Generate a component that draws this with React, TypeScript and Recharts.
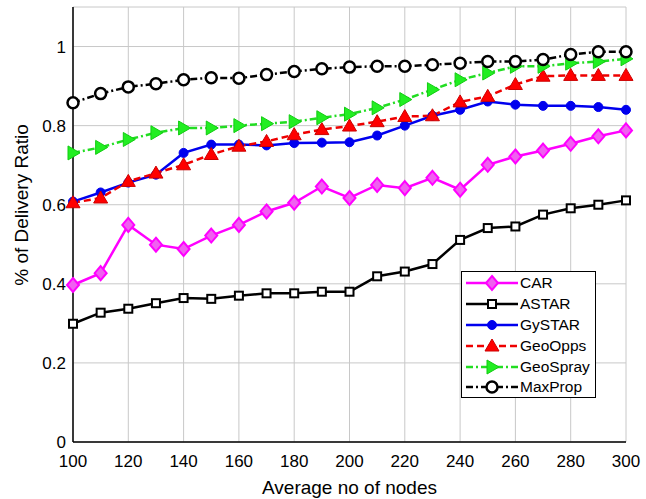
import React from 'react';
import { LineChart, Line, XAxis, YAxis, CartesianGrid } from 'recharts';

const nodes = [100, 110, 120, 130, 140, 150, 160, 170, 180, 190, 200, 210, 220, 230, 240, 250, 260, 270, 280, 290, 300];
const car = [0.397, 0.427, 0.549, 0.499, 0.488, 0.522, 0.549, 0.583, 0.605, 0.646, 0.617, 0.65, 0.642, 0.668, 0.638, 0.701, 0.722, 0.737, 0.754, 0.773, 0.788];
const astar = [0.299, 0.327, 0.337, 0.351, 0.364, 0.362, 0.37, 0.376, 0.376, 0.38, 0.38, 0.419, 0.431, 0.45, 0.511, 0.541, 0.545, 0.575, 0.591, 0.6, 0.611];
const gystar = [0.608, 0.631, 0.656, 0.676, 0.731, 0.752, 0.752, 0.75, 0.756, 0.757, 0.758, 0.775, 0.8, 0.825, 0.84, 0.861, 0.853, 0.85, 0.85, 0.847, 0.84];
const geoopps = [0.605, 0.617, 0.659, 0.68, 0.701, 0.727, 0.748, 0.76, 0.777, 0.79, 0.799, 0.81, 0.823, 0.825, 0.86, 0.874, 0.904, 0.925, 0.927, 0.927, 0.927];
const geospray = [0.731, 0.745, 0.765, 0.782, 0.794, 0.794, 0.8, 0.805, 0.81, 0.82, 0.829, 0.845, 0.866, 0.891, 0.916, 0.933, 0.95, 0.95, 0.958, 0.962, 0.969];
const maxprop = [0.858, 0.881, 0.898, 0.906, 0.916, 0.921, 0.92, 0.929, 0.937, 0.944, 0.948, 0.95, 0.95, 0.954, 0.958, 0.962, 0.962, 0.967, 0.98, 0.987, 0.987];
const xTicks = [100, 120, 140, 160, 180, 200, 220, 240, 260, 280, 300];
const yTicks = [0, 0.2, 0.4, 0.6, 0.8, 1];

const data = nodes.map((n, i) => ({
  n,
  CAR: car[i],
  ASTAR: astar[i],
  GySTAR: gystar[i],
  GeoOpps: geoopps[i],
  GeoSpray: geospray[i],
  MaxProp: maxprop[i],
}));

const FONT = 'Liberation Sans, Arial, sans-serif';

type Shape = 'diamond' | 'square' | 'circle' | 'triUp' | 'triRight' | 'openCircle';

const drawShape = (shape: Shape, cx: number, cy: number, color: string, key?: any) => {
  switch (shape) {
    case 'diamond':
      return <polygon key={key} points={`${cx},${cy - 7} ${cx + 6},${cy} ${cx},${cy + 7} ${cx - 6},${cy}`} fill="#f060f0" stroke={color} strokeWidth={2} />;
    case 'square':
      return <rect key={key} x={cx - 4} y={cy - 4} width={8} height={8} fill="#ffffff" stroke="#000" strokeWidth={2} />;
    case 'circle':
      return <circle key={key} cx={cx} cy={cy} r={4.5} fill={color} stroke={color} strokeWidth={1} />;
    case 'triUp':
      return <polygon key={key} points={`${cx},${cy - 7} ${cx + 7},${cy + 5} ${cx - 7},${cy + 5}`} fill="#ff0000" stroke="#cc0000" strokeWidth={1} />;
    case 'triRight':
      return <polygon key={key} points={`${cx + 7},${cy} ${cx - 5},${cy - 7} ${cx - 5},${cy + 7}`} fill="#22ee22" stroke="#11cc11" strokeWidth={1} />;
    case 'openCircle':
      return <circle key={key} cx={cx} cy={cy} r={5.5} fill="#ffffff" stroke="#000" strokeWidth={2.5} />;
  }
  return null;
};

const makeDot = (shape: Shape, color: string) => (props: any) => {
  const { cx, cy, index } = props;
  if (cx == null || cy == null) return <g key={index} />;
  return <g key={index}>{drawShape(shape, cx, cy, color)}</g>;
};

const series: { key: string; color: string; dash?: string; shape: Shape }[] = [
  { key: 'ASTAR', color: '#000000', shape: 'square' },
  { key: 'CAR', color: '#ff00ff', shape: 'diamond' },
  { key: 'GySTAR', color: '#0000ee', shape: 'circle' },
  { key: 'GeoOpps', color: '#ee0000', dash: '7 4', shape: 'triUp' },
  { key: 'GeoSpray', color: '#22dd22', dash: '7 3 2 3', shape: 'triRight' },
  { key: 'MaxProp', color: '#000000', dash: '7 3 2 3', shape: 'openCircle' },
];

const legendOrder = ['CAR', 'ASTAR', 'GySTAR', 'GeoOpps', 'GeoSpray', 'MaxProp'];

const LegendBox = () => (
  <div
    style={{
      position: 'absolute',
      left: 461,
      top: 271,
      width: 135,
      height: 127,
      border: '1.5px solid #000',
      background: '#fff',
      boxSizing: 'border-box',
      fontFamily: FONT,
      fontSize: 15.5,
      paddingTop: 1,
    }}
  >
    {legendOrder.map((k) => {
      const s = series.find((x) => x.key === k)!;
      return (
        <div key={k} style={{ display: 'flex', alignItems: 'center', height: 20.8, whiteSpace: 'nowrap' }}>
          <svg width={55} height={18} style={{ marginLeft: 3, flexShrink: 0 }}>
            <line x1={1} y1={9} x2={53} y2={9} stroke={s.color} strokeWidth={2.5} strokeDasharray={s.dash} />
            {drawShape(s.shape, 27, 9, s.color)}
          </svg>
          <span style={{ marginLeft: 0, color: '#000' }}>{k}</span>
        </div>
      );
    })}
  </div>
);

const YLabel = () => (
  <text
    x={21}
    y={205}
    transform="rotate(-90, 21, 205)"
    textAnchor="middle"
    dominantBaseline="central"
    fill="#000"
    fontSize={19}
    fontFamily={FONT}
  >
    % of Delivery Ratio
  </text>
);

const XLabel = () => (
  <text
    x={349.5}
    y={487}
    textAnchor="middle"
    dominantBaseline="central"
    fill="#000"
    fontSize={19}
    fontFamily={FONT}
  >
    Average no of nodes
  </text>
);

export default function App() {
  return (
    <div style={{ position: 'absolute', left: 0, top: 0, width: 646, height: 499, background: '#fff' }}>
      <LineChart width={646} height={499} data={data} margin={{ top: 7, right: 20, left: 0, bottom: 0 }}>
        <CartesianGrid stroke="#c8c8c8" strokeWidth={1} horizontal vertical />
        <XAxis
          dataKey="n"
          type="number"
          domain={[100, 300]}
          ticks={xTicks}
          height={57}
          tickLine={false}
          tickMargin={7}
          axisLine={{ stroke: '#000', strokeWidth: 1.5 }}
          tick={{ fill: '#000', fontSize: 17, fontFamily: FONT }}
          label={<XLabel />}
        />
        <XAxis xAxisId="top" orientation="top" dataKey="n" type="number" domain={[100, 300]} ticks={xTicks} height={0} tick={false} tickLine={false} axisLine={{ stroke: '#000', strokeWidth: 1.5 }} />
        <YAxis
          domain={[0, 1.1]}
          ticks={yTicks}
          width={73}
          tickLine={false}
          tickMargin={1}
          axisLine={{ stroke: '#000', strokeWidth: 1.5 }}
          tickFormatter={(v: number) => String(Math.round(v * 10) / 10)}
          tick={{ fill: '#000', fontSize: 17, fontFamily: FONT }}
          label={<YLabel />}
        />
        <YAxis yAxisId="right" orientation="right" domain={[0, 1.1]} ticks={yTicks} width={0} tick={false} tickLine={false} axisLine={{ stroke: '#000', strokeWidth: 1.5 }} />
        {series.map((s) => (
          <Line
            key={s.key}
            dataKey={s.key}
            stroke={s.color}
            strokeWidth={2.5}
            strokeDasharray={s.dash}
            dot={makeDot(s.shape, s.color)}
            activeDot={false}
            isAnimationActive={false}
            type="linear"
          />
        ))}
      </LineChart>
      <LegendBox />
    </div>
  );
}
